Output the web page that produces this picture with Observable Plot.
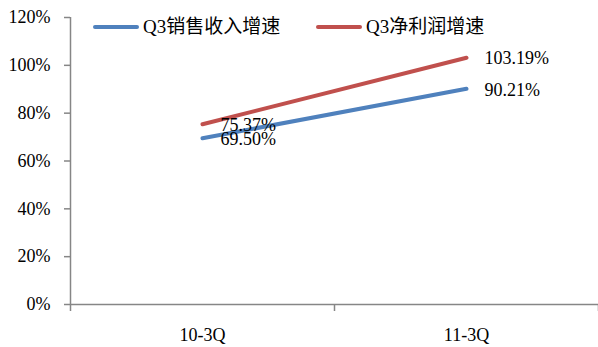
<!DOCTYPE html>
<html>
<head>
<meta charset="utf-8">
<script src="https://cdn.jsdelivr.net/npm/d3@7"></script>
<script src="https://cdn.jsdelivr.net/npm/@observablehq/plot@0.6"></script>
<style>
  html, body { margin: 0; padding: 0; background: #fff; }
  #wrap { position: relative; width: 598px; height: 347px; }
  #wrap svg, #wrap svg text { font-family: "Liberation Serif", "Times New Roman", Times, serif !important; }
  .leg { position: absolute; top: 16px; font-family: "Liberation Serif", "Times New Roman", Times, "Noto Sans CJK SC", serif; font-size: 19px; line-height: 22px; color: #000; white-space: nowrap; display: flex; align-items: center; }
  .leg .sw { display: inline-block; width: 46px; height: 4px; margin-right: 4px; border-radius: 2px; }
</style>
</head>
<body>
<div id="wrap"></div>
<script>
const categories = ["10-3Q", "11-3Q"];
const seriesNames = ["Q3销售收入增速", "Q3净利润增速"];
const revenueGrowth = [69.50, 90.21];
const profitGrowth = [75.37, 103.19];
const yTicks = [0, 20, 40, 60, 80, 100, 120];
const colors = ["#4F81BD", "#C0504D"];

const rows = [];
[revenueGrowth, profitGrowth].forEach((vals, s) => {
  vals.forEach((v, i) => rows.push({series: seriesNames[s], cat: i + 0.5, v}));
});

const axisColor = "#868686";

const chart = Plot.plot({
  width: 598,
  height: 347,
  marginLeft: 70,
  marginRight: 0,
  marginTop: 17,
  marginBottom: 43,
  style: {fontSize: "18px", color: "#000", background: "#fff"},
  x: {domain: [0, categories.length], axis: null},
  y: {domain: [0, 120], axis: null},
  color: {domain: seriesNames, range: colors},
  marks: [
    Plot.axisY({ticks: yTicks, tickFormat: d => d + "%", tickSize: 6, tickPadding: 14, stroke: axisColor, strokeWidth: 1.5, fill: "#000", fontSize: 18, label: null}),
    Plot.axisX({ticks: d3.range(categories.length + 1), tickFormat: () => "", tickSize: 7, stroke: axisColor, strokeWidth: 1.5, label: null}),
    Plot.axisX({ticks: categories.map((c, i) => i + 0.5), tickFormat: d => categories[Math.floor(d)], tickSize: 0, tickPadding: 24, fill: "#000", fontSize: 18, label: null}),
    Plot.ruleX([0], {stroke: axisColor, strokeWidth: 1.5}),
    Plot.ruleY([0], {stroke: axisColor, strokeWidth: 1.5}),
    Plot.line(rows, {x: "cat", y: "v", z: "series", stroke: "series", strokeWidth: 4, strokeLinecap: "round"}),
    Plot.text(rows, {x: "cat", y: "v", text: d => d.v.toFixed(2) + "%", textAnchor: "start", dx: 18, dy: 1, fontSize: 18, fill: "#000"})
  ]
});

const wrap = document.getElementById("wrap");
wrap.appendChild(chart);

const legendPos = [93, 316];
seriesNames.forEach((name, i) => {
  const d = document.createElement("div");
  d.className = "leg";
  d.style.left = legendPos[i] + "px";
  const sw = document.createElement("span");
  sw.className = "sw";
  sw.style.background = colors[i];
  d.appendChild(sw);
  d.appendChild(document.createTextNode(name));
  wrap.appendChild(d);
});
</script>
</body>
</html>
